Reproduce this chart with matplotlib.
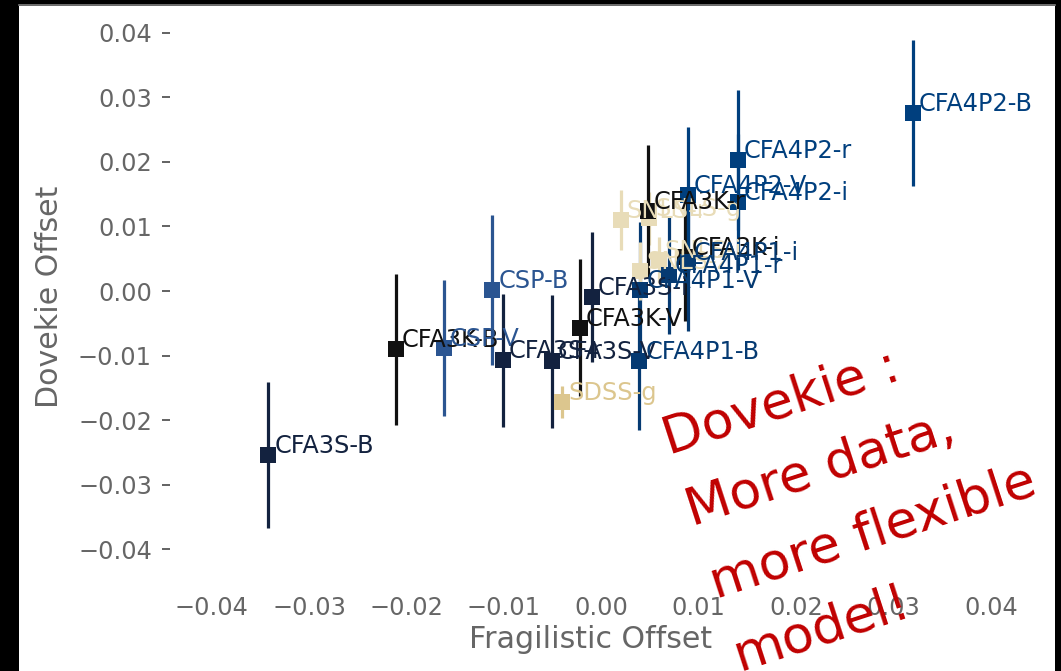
import matplotlib
matplotlib.use('Agg')
import matplotlib.pyplot as plt
from matplotlib.patches import Rectangle
from matplotlib.lines import Line2D

# offsets
names = ['CFA3S-B', 'CFA3K-B', 'CSP-V', 'CSP-B', 'CFA3S-r', 'CFA3S-V', 'SDSS-g',
         'CFA3K-V', 'CFA3S-i', 'CFA4P1-B', 'CFA4P1-V', 'SNLS-r', 'SNLS-g', 'SNLS-z',
         'SNLS-i', 'CFA3K-r', 'CFA3K-i', 'CFA4P1-r', 'CFA4P1-i', 'CFA4P2-V',
         'CFA4P2-r', 'CFA4P2-i', 'CFA4P2-B']
frag = [-0.0342, -0.0211, -0.0162, -0.0112, -0.0101, -0.0051, -0.0040,
        -0.0022, -0.0010, 0.0039, 0.0040, 0.0020, 0.0049, 0.0040,
        0.0059, 0.0048, 0.0086, 0.0069, 0.0089, 0.0089,
        0.0140, 0.0140, 0.0320]
dove = [-0.0254, -0.0090, -0.0088, 0.0002, -0.0107, -0.0109, -0.0172,
        -0.0057, -0.0009, -0.0109, 0.0002, 0.0110, 0.0113, 0.0031,
        0.0048, 0.0124, 0.0053, 0.0025, 0.0045, 0.0149,
        0.0203, 0.0138, 0.0276]
dove_err = [0.0113, 0.0117, 0.0105, 0.0116, 0.0103, 0.0103, 0.0025,
            0.0106, 0.0101, 0.0107, 0.0105, 0.0047, 0.0041, 0.0045,
            0.0035, 0.0102, 0.0100, 0.0092, 0.0107, 0.0105,
            0.0109, 0.0105, 0.0113]

survey_colors = {
    'CFA3S': '#13223f',
    'CFA3K': '#111111',
    'CSP': '#2b5591',
    'CFA4P1': '#053a72',
    'CFA4P2': '#003f7e',
    'SNLS': '#e8dcb8',
    'SDSS': '#dcc68e',
}

W, H, DPI = 1061, 671, 144
fig = plt.figure(figsize=(W / DPI, H / DPI), dpi=DPI)
fig.patch.set_facecolor('black')
# white slide area with the black border round it
fig.patches.append(Rectangle((19 / W, 0), 1036 / W, 665 / H, transform=fig.transFigure,
                             facecolor='white', edgecolor='none', zorder=-2))
fig.lines.append(Line2D([19 / W, 1055 / W], [666 / H, 666 / H], transform=fig.transFigure,
                        color='#888888', lw=0.8, zorder=-1))

# axes box in pixels
left, right, top, bottom = 162, 1030, 7, 588
ax = fig.add_axes([left / W, (H - bottom) / H, (right - left) / W, (bottom - top) / H])
ax.set_facecolor('none')
ax.set_xlim(-0.0451, 0.044)
ax.set_ylim(-0.046, 0.044)
for s in ax.spines.values():
    s.set_visible(False)

ax.set_xticks([-0.04, -0.03, -0.02, -0.01, 0.0, 0.01, 0.02, 0.03, 0.04])
ax.set_yticks([-0.04, -0.03, -0.02, -0.01, 0.0, 0.01, 0.02, 0.03, 0.04])
ax.tick_params(axis='both', labelsize=12, labelcolor='#666666', color='#666666')
ax.tick_params(axis='x', length=0, pad=4)
ax.tick_params(axis='y', direction='in', length=4, width=1, pad=5)

for name, x, y, e in zip(names, frag, dove, dove_err):
    c = survey_colors[name.split('-')[0]]
    ax.errorbar(x, y, yerr=e, fmt='s', color=c, ms=7, elinewidth=1.6, capsize=0)
    ax.annotate(name, (x, y), xytext=(3, 1), textcoords='offset points',
                color=c, fontsize=12, va='baseline', ha='left')

ax.set_xlabel('Fragilistic Offset', fontsize=15, color='#666666')
ax.set_ylabel('Dovekie Offset', fontsize=15, color='#666666')
# label centres measured on the reference, in pixels
ax.xaxis.set_label_coords((591 - left) / (right - left), -(640 - bottom) / (bottom - top),
                          transform=ax.transAxes)
ax.xaxis.label.set_va('center')
ax.yaxis.set_label_coords(-(left - 50) / (right - left), (bottom - 297) / (bottom - top),
                          transform=ax.transAxes)
ax.yaxis.label.set_va('center')

# red note, left aligned lines, runs off the bottom of the slide
ax.text(0.01335, -0.0550, 'Dovekie :\nMore data,\nmore flexible\nmodel!',
        color='#c00000', fontsize=26, rotation=18, rotation_mode='anchor',
        ha='left', va='baseline', multialignment='left', linespacing=1.656,
        clip_on=False)

fig.savefig('out.png', dpi=DPI, facecolor=fig.get_facecolor())
